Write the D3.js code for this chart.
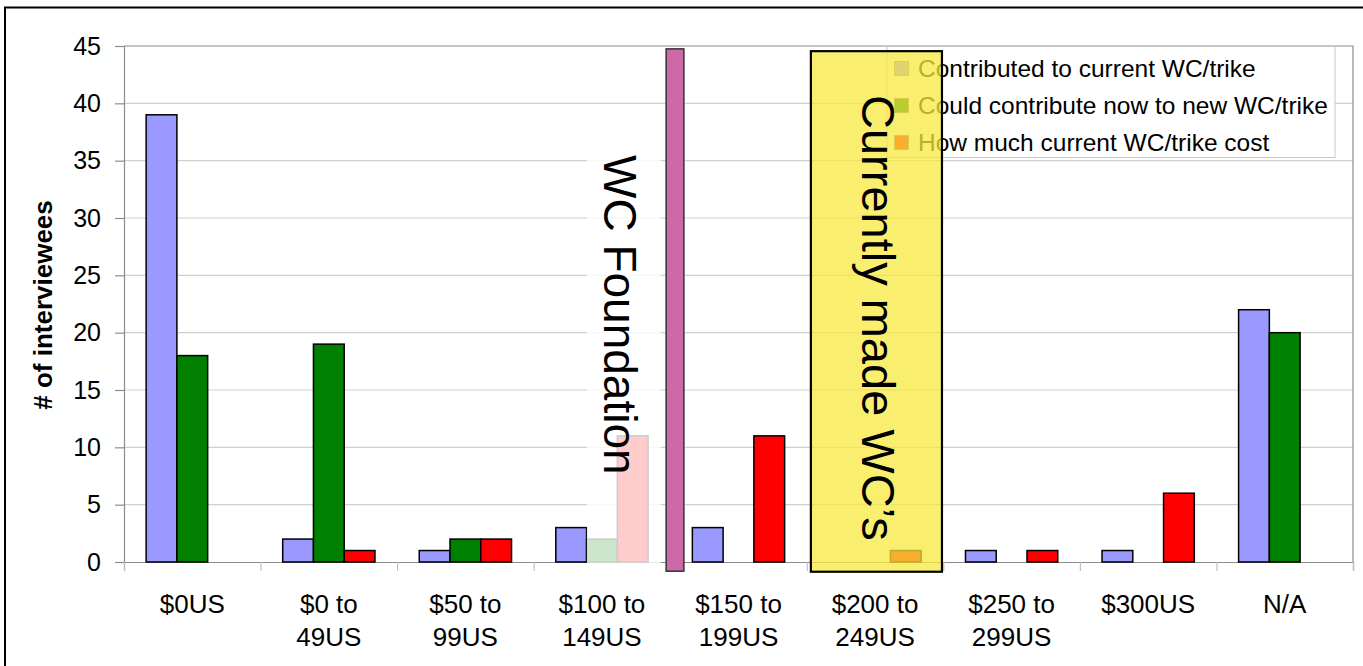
<!DOCTYPE html>
<html>
<head>
<meta charset="utf-8">
<script src="https://cdn.jsdelivr.net/npm/d3@7"></script>
<style>
  body { margin: 0; background: #fff; }
  svg text { font-family: "Liberation Sans", Arial, sans-serif; fill: #000; }
</style>
</head>
<body>
<div id="chart"></div>
<script>
// categories and series values
var categories = [["$0US"], ["$0 to", "49US"], ["$50 to", "99US"], ["$100 to", "149US"],
  ["$150 to", "199US"], ["$200 to", "249US"], ["$250 to", "299US"], ["$300US"], ["N/A"]];
var seriesNames = ["Contributed to current WC/trike", "Could contribute now to new WC/trike", "How much current WC/trike cost"];
var contributed = [39, 2, 1, 3, 3, 0, 1, 1, 22];
var couldContribute = [18, 19, 2, 2, 0, 0, 0, 0, 20];
var currentCost = [0, 1, 2, 11, 11, 1, 1, 6, 0];
var yTicks = [0, 5, 10, 15, 20, 25, 30, 35, 40, 45];

// annotation shapes in category units (x) and value units (y)
var foundationFade = { x0: 3.39, x1: 3.93, y0: -0.3, y1: 37 };
var foundationBar = { x0: 3.97, x1: 4.1, y0: -0.8, y1: 44.75 };
var madeBox = { x0: 5.03, x1: 5.99, y0: -0.85, y1: 44.55 };

var svgWidth = 1363;
var svgHeight = 666;
var margin = { top: 46, right: 10, bottom: 104, left: 124 };
var width = 1353 - margin.left;
var height = 562 - margin.top;

var colors = ["#9999FF", "#008000", "#FF0000"];
var values = [contributed, couldContribute, currentCost];

var svg = d3.select("#chart")
    .append("svg")
    .attr("width", svgWidth)
    .attr("height", svgHeight);

// outer frame
svg.append("rect")
    .attr("x", 5).attr("y", 7.5)
    .attr("width", 1400).attr("height", 700)
    .attr("fill", "none")
    .attr("stroke", "#000")
    .attr("stroke-width", 2);

var chartGroup = svg.append("g")
    .attr("transform", `translate(${margin.left}, ${margin.top})`);

//Scales
var x0 = d3.scaleBand()
    .domain(d3.range(categories.length))
    .range([0, width]);

var x1 = d3.scaleBand()
    .domain(d3.range(seriesNames.length))
    .range([0, x0.bandwidth()])
    .paddingOuter(0.72);

var xUnit = d3.scaleLinear()
    .domain([0, categories.length])
    .range([0, width]);

var yScale = d3.scaleLinear()
    .domain([0, 45])
    .range([height, 0]);

//Gridlines
chartGroup.append("g")
    .selectAll("line")
    .data(yTicks.filter(d => d > 0 && d < 45))
    .enter()
    .append("line")
    .attr("x1", 0).attr("x2", width)
    .attr("y1", d => yScale(d)).attr("y2", d => yScale(d))
    .attr("stroke", "#D0D0D0")
    .attr("stroke-width", 1.2);

// plot area frame (top, right)
chartGroup.append("path")
    .attr("d", `M0,${yScale(45)}H${width}V${height}`)
    .attr("fill", "none")
    .attr("stroke", "#8C8C8C")
    .attr("stroke-width", 1.2);

//Axes
var leftAxis = d3.axisLeft(yScale)
    .tickValues(yTicks)
    .tickSize(9)
    .tickPadding(14);

var yAxisG = chartGroup.append("g").call(leftAxis);
yAxisG.select(".domain").attr("stroke", "#8C8C8C").attr("stroke-width", 1.2);
yAxisG.selectAll(".tick line").attr("stroke", "#8C8C8C").attr("stroke-width", 1.2);
yAxisG.selectAll(".tick text")
    .style("font-size", "25px")
    .attr("font-family", null);

var bottomAxis = d3.axisBottom(xUnit)
    .tickValues(d3.range(categories.length + 1))
    .tickSize(9)
    .tickFormat("");

var xAxisG = chartGroup.append("g")
    .attr("transform", `translate(0, ${height})`)
    .call(bottomAxis);
xAxisG.select(".domain").attr("stroke", "#8C8C8C").attr("stroke-width", 1.2);
xAxisG.selectAll(".tick line").attr("stroke", "#C0C0C0").attr("stroke-width", 1.2);

// category labels
var catLabels = chartGroup.append("g")
    .selectAll("text")
    .data(categories)
    .enter()
    .append("text")
    .attr("text-anchor", "middle")
    .style("font-size", "26px")
    .attr("transform", (d, i) => `translate(${x0(i) + x0.bandwidth() / 2}, ${height + 51})`);

catLabels.selectAll("tspan")
    .data(d => d)
    .enter()
    .append("tspan")
    .attr("x", 0)
    .attr("y", (d, i) => i * 33)
    .text(d => d);

//Bars
var barGroups = chartGroup.append("g")
    .selectAll("g")
    .data(categories)
    .enter()
    .append("g")
    .attr("transform", (d, i) => `translate(${x0(i)}, 0)`);

barGroups.selectAll("rect")
    .data((d, i) => values.map((v, s) => ({ s: s, v: v[i] })).filter(b => b.v > 0))
    .enter()
    .append("rect")
    .attr("x", d => x1(d.s))
    .attr("y", d => yScale(d.v))
    .attr("width", x1.bandwidth())
    .attr("height", d => yScale(0) - yScale(d.v))
    .attr("fill", d => colors[d.s])
    .attr("stroke", "#000")
    .attr("stroke-width", 1.5);

// "WC Foundation" text box (semi-transparent white)
chartGroup.append("rect")
    .attr("x", xUnit(foundationFade.x0))
    .attr("y", yScale(foundationFade.y1))
    .attr("width", xUnit(foundationFade.x1) - xUnit(foundationFade.x0))
    .attr("height", yScale(foundationFade.y0) - yScale(foundationFade.y1))
    .attr("fill", "#fff")
    .attr("opacity", 0.8);

chartGroup.append("text")
    .attr("transform", `translate(${604 - margin.left}, ${155 - margin.top}) rotate(90)`)
    .style("font-size", "46px")
    .text("WC Foundation");

// purple marker bar
chartGroup.append("rect")
    .attr("x", xUnit(foundationBar.x0))
    .attr("y", yScale(foundationBar.y1))
    .attr("width", xUnit(foundationBar.x1) - xUnit(foundationBar.x0))
    .attr("height", yScale(foundationBar.y0) - yScale(foundationBar.y1))
    .attr("fill", "#CE69A8")
    .attr("stroke", "#333")
    .attr("stroke-width", 1.5);

//Legend
var legend = svg.append("g")
    .attr("transform", "translate(887, 46.5)");

legend.append("rect")
    .attr("width", 448)
    .attr("height", 111)
    .attr("fill", "#fff")
    .attr("stroke", "#C8C8C8")
    .attr("stroke-width", 1);

var legendItems = legend.selectAll(".item")
    .data(seriesNames)
    .enter()
    .append("g")
    .attr("class", "item")
    .attr("transform", (d, i) => `translate(0, ${22 + i * 37})`);

legendItems.append("rect")
    .attr("x", 7.5).attr("y", -7)
    .attr("width", 14).attr("height", 14)
    .attr("fill", (d, i) => colors[i])
    .attr("stroke", "#777")
    .attr("stroke-width", 0.8);

legendItems.append("text")
    .attr("x", 31)
    .attr("dy", "0.35em")
    .style("font-size", "24.5px")
    .text(d => d);

// "Currently made WC's" highlight box, drawn over the legend
var overlay = svg.append("g")
    .attr("transform", `translate(${margin.left}, ${margin.top})`);

overlay.append("rect")
    .attr("x", xUnit(madeBox.x0))
    .attr("y", yScale(madeBox.y1))
    .attr("width", xUnit(madeBox.x1) - xUnit(madeBox.x0))
    .attr("height", yScale(madeBox.y0) - yScale(madeBox.y1))
    .attr("fill", "rgba(247, 232, 62, 0.75)")
    .attr("stroke", "#000")
    .attr("stroke-width", 2.2);

overlay.append("text")
    .attr("transform", `translate(${862 - margin.left}, ${95 - margin.top}) rotate(90)`)
    .style("font-size", "47px")
    .text("Currently made WC\u2019s");

//Axis title
svg.append("text")
    .attr("transform", "translate(52, 305) rotate(-90)")
    .attr("text-anchor", "middle")
    .style("font-size", "26px")
    .style("font-weight", "bold")
    .text("# of interviewees");
</script>
</body>
</html>
